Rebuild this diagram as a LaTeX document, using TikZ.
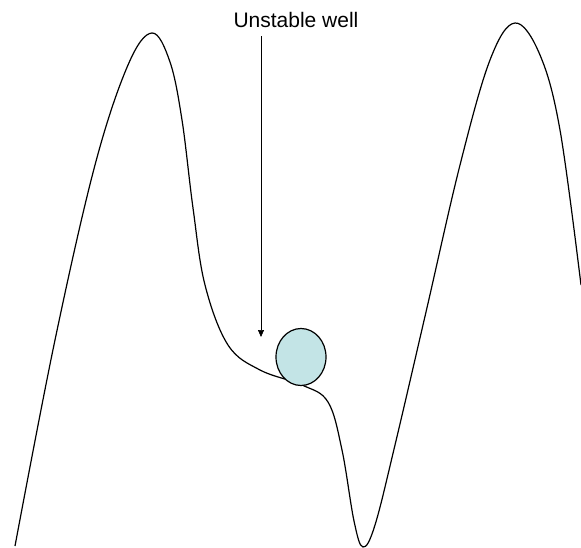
\documentclass[tikz,border=0pt]{standalone}
\usepackage{fontspec}
\setmainfont{Liberation Sans}
\usetikzlibrary{shapes.geometric,arrows.meta}
\definecolor{ballblue}{RGB}{195,228,230}
\begin{document}
\begin{tikzpicture}[x=1pt, y=-1pt, line width=1.2pt,
    ball/.style={ellipse, draw, fill=ballblue, minimum width=50pt, minimum height=57pt, inner sep=0pt},
    label/.style={font=\fontsize{21}{25}\selectfont, inner sep=0pt},
    pointer/.style={-{Triangle[length=7pt,width=6pt]}, line width=0.7pt}]
    \useasboundingbox (0,0) rectangle (581,548);
    % potential curve
    \draw plot[smooth, tension=0.6] coordinates {
        (15,546) (55,340) (95,165) (128,65) (152,33) (170,62) (182,120)
        (193,208) (205,285) (228,345) (260,370) (302,385) (328,402) (342,450)
        (354,521) (363,547) (375,525) (395,445) (426,312) (460,165) (490,60)
        (515,23) (540,55) (560,130) (581,285)};
    \node[ball] (ball) at (301,357) {};
    \node[label] (title) at (296,20) {Unstable well};
    \coordinate (tip) at (261,337);
    \draw[pointer] ([yshift=-8pt]title.south -| tip) -- (tip);
\end{tikzpicture}
\end{document}
